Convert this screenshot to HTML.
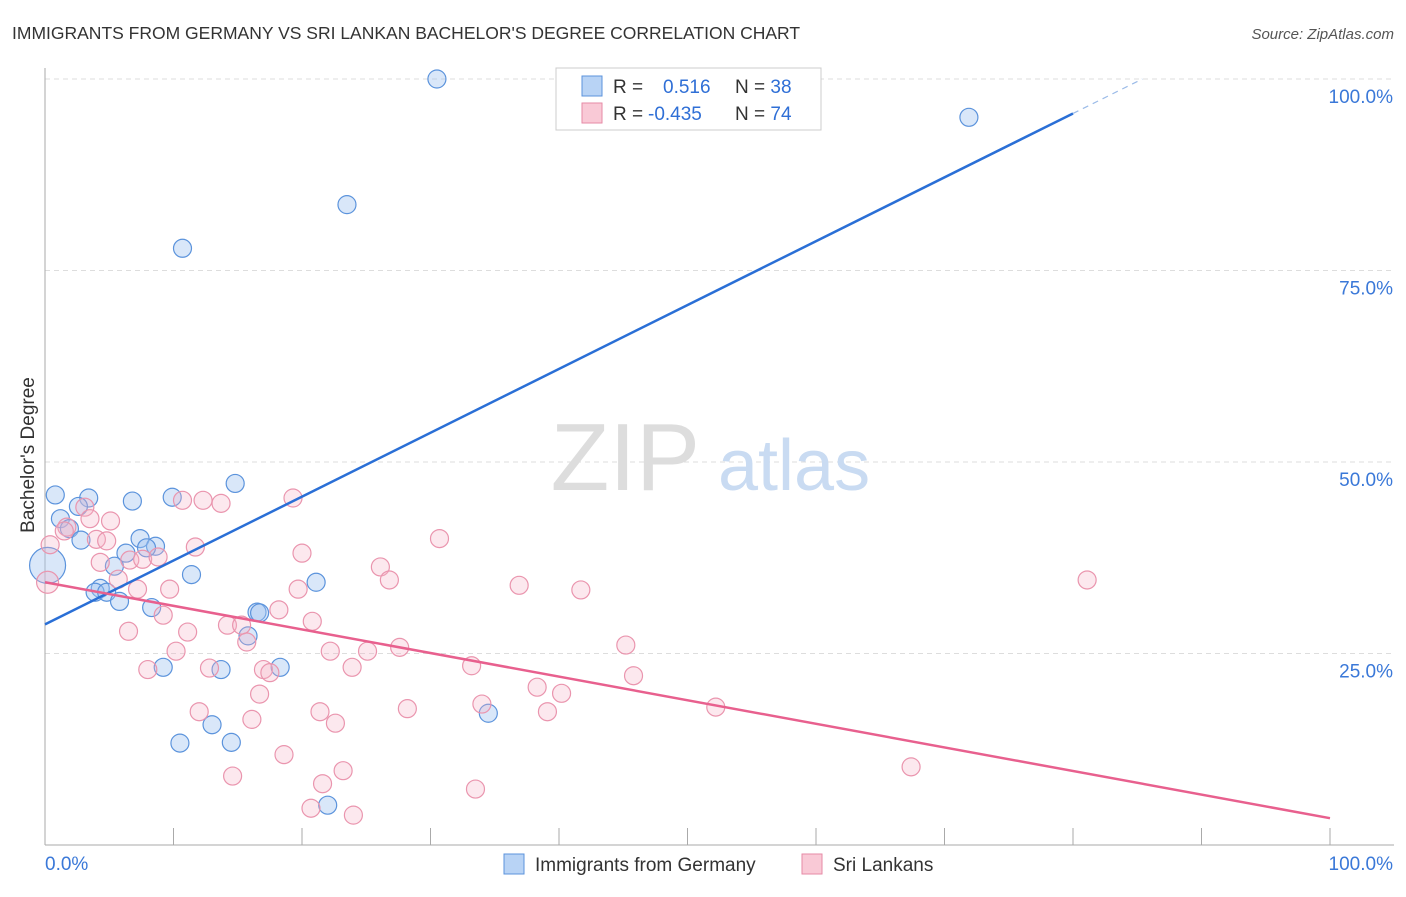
<!DOCTYPE html>
<html><head><meta charset="utf-8"><style>
body{margin:0;background:#fff;font-family:"Liberation Sans",sans-serif;}
svg text{font-family:"Liberation Sans",sans-serif;}
</style></head><body>
<svg id="chart" width="1406" height="892">
<text x="12" y="39" font-size="17.5" fill="#333">IMMIGRANTS FROM GERMANY VS SRI LANKAN BACHELOR'S DEGREE CORRELATION CHART</text>
<text x="1394" y="39" font-size="15" fill="#555" font-style="italic" text-anchor="end">Source: ZipAtlas.com</text>
<g id="grid"></g>
<text x="700" y="490" font-size="96" font-family="Liberation Serif" fill="#ddd" text-anchor="end">ZIP</text>
<text x="718" y="490" font-size="72" fill="#c9dbf2">atlas</text>
<text transform="translate(34,455) rotate(-90)" font-size="19" fill="#333" text-anchor="middle">Bachelor's Degree</text>
<g id="pts"></g>
<g id="lines"></g>
<g>
<rect x="556" y="68" width="265" height="62" fill="#fff" stroke="#ccc"/>
<rect x="582" y="76" width="20" height="20" fill="#b8d3f5" stroke="#5b93dc"/>
<rect x="582" y="103" width="20" height="20" fill="#f9c9d6" stroke="#e68aa6"/>
<text x="613" y="93" font-size="19" fill="#333">R = <tspan x="663" fill="#2f6fd6">0.516</tspan><tspan x="735" fill="#333">N = </tspan><tspan fill="#2f6fd6">38</tspan></text>
<text x="613" y="120" font-size="19" fill="#333">R = <tspan x="648" fill="#2f6fd6">-0.435</tspan><tspan x="735" fill="#333">N = </tspan><tspan fill="#2f6fd6">74</tspan></text>
</g>
<g>
<rect x="504" y="854" width="20" height="20" fill="#b8d3f5" stroke="#5b93dc"/>
<text x="535" y="871" font-size="19" fill="#333">Immigrants from Germany</text>
<rect x="802" y="854" width="20" height="20" fill="#f9c9d6" stroke="#e68aa6"/>
<text x="833" y="871" font-size="19" fill="#333">Sri Lankans</text>
</g>
</svg>
<script>
const yTicks=[25,50,75,100];
const yTickLabels=["25.0%","50.0%","75.0%","100.0%"];
const xTicks=[0,10,20,30,40,50,60,70,80,90,100];
const germanyX=[0.8,3.4,6.8,9.9,14.8,1.2,2.6,1.9,2.8,7.4,8.6,7.9,6.3,5.4,4.3,3.9,4.8,5.8,8.3,11.4,21.1,9.2,13.7,18.3,16.5,16.7,15.8,13.0,14.5,10.5,34.5,22.0,30.5,10.7,23.5,71.9,0.2,50.1];
const germanyY=[45.7,45.3,44.9,45.4,47.2,42.6,44.2,41.3,39.8,40.0,39.0,38.8,38.1,36.4,33.5,33.0,33.0,31.8,31.0,35.3,34.3,23.2,22.9,23.2,30.4,30.3,27.3,15.7,13.4,13.3,17.2,5.2,100,77.9,83.6,95.0,36.5,100];
const germanyR=[9,9,9,9,9,9,9,9,9,9,9,9,9,9,9,9,9,9,9,9,9,9,9,9,9,9,9,9,9,9,9,9,9,9,9,9,18,9];
const lankaX=[0.2,0.4,1.7,1.5,3.1,3.5,5.1,4.0,4.8,6.6,7.6,8.8,4.3,5.7,7.2,6.5,8.0,9.2,9.7,11.1,11.7,10.2,10.7,12.3,13.7,19.3,12.8,12.0,14.2,15.3,15.7,16.7,16.1,14.6,17.0,17.5,18.2,18.6,20.0,19.7,20.8,21.4,22.2,22.6,21.6,20.7,23.2,24.0,23.9,25.1,26.1,26.8,27.6,28.2,30.7,33.2,34.0,33.5,36.9,38.3,39.1,40.2,41.7,45.2,45.8,52.2,67.4,81.1];
const lankaY=[34.3,39.2,41.5,41.0,44.1,42.6,42.3,39.9,39.7,37.2,37.3,37.6,36.9,34.7,33.4,27.9,22.9,30.0,33.4,27.8,38.9,25.3,45.0,45.0,44.6,45.3,23.1,17.4,28.7,28.7,26.5,19.7,16.4,9.0,22.9,22.5,30.7,11.8,38.1,33.4,29.2,17.4,25.3,15.9,8.0,4.8,9.7,3.9,23.2,25.3,36.3,34.6,25.8,17.8,40.0,23.4,18.4,7.3,33.9,20.6,17.4,19.8,33.3,26.1,22.1,18.0,10.2,34.6];
const lankaR=[11,9,9,9,9,9,9,9,9,9,9,9,9,9,9,9,9,9,9,9,9,9,9,9,9,9,9,9,9,9,9,9,9,9,9,9,9,9,9,9,9,9,9,9,9,9,9,9,9,9,9,9,9,9,9,9,9,9,9,9,9,9,9,9,9,9,9,9];
const blueLine=[0,28.8,80,95.5];
const pinkLine=[0,34.3,100,3.5];
const X=v=>45+v*12.85, Y=v=>845-v*7.66;
const NS="http://www.w3.org/2000/svg";
function mk(t,a,p){const e=document.createElementNS(NS,t);for(const k in a)e.setAttribute(k,a[k]);p.appendChild(e);return e;}
const grid=document.getElementById('grid');
yTicks.forEach((t,i)=>{
 const l=mk('line',{x1:45,x2:1394,y1:Y(t),y2:Y(t),stroke:'#ddd','stroke-dasharray':'5,4'},grid);
 
 
 const tx=mk('text',{x:1393,y:Y(t)+24,'font-size':19,fill:'#3a78d8','text-anchor':'end'},grid);tx.textContent=yTickLabels[i];
 
 
});
mk('line',{x1:45,x2:45,y1:68,y2:845,stroke:'#aaa'},grid);
mk('line',{x1:45,x2:1394,y1:845,y2:845,stroke:'#aaa'},grid);
xTicks.forEach(t=>{const l=mk('line',{x1:X(t),x2:X(t),y1:828,y2:845,stroke:'#aaa'},grid);
 
 });
let a=mk('text',{x:45,y:870,'font-size':19,fill:'#3a78d8'},grid);a.textContent='0.0%';

let b=mk('text',{x:1393,y:870,'font-size':19,fill:'#3a78d8','text-anchor':'end'},grid);b.textContent='100.0%';

const pts=document.getElementById('pts');
germanyX.forEach((v,i)=>{const c=mk('circle',{cx:X(v),cy:Y(germanyY[i]),r:germanyR[i],fill:'rgba(160,196,240,0.4)',stroke:'#5b93dc','stroke-width':1.2},pts);
 
 });
lankaX.forEach((v,i)=>{const c=mk('circle',{cx:X(v),cy:Y(lankaY[i]),r:lankaR[i],fill:'rgba(246,180,200,0.3)',stroke:'#ea95ae','stroke-width':1.2},pts);
 
 });
const lines=document.getElementById('lines');
const slope=(blueLine[3]-blueLine[1])/(blueLine[2]-blueLine[0]);
let bl=mk('line',{x1:X(blueLine[0]),y1:Y(blueLine[1]),x2:X(blueLine[2]),y2:Y(blueLine[3]),stroke:'#2a6fd6','stroke-width':2.5},lines);


const xe=blueLine[2]+(100-blueLine[3])/slope;
let bd=mk('line',{x1:X(blueLine[2]),y1:Y(blueLine[3]),x2:X(xe),y2:Y(100),stroke:'#9bbbe8','stroke-width':1.2,'stroke-dasharray':'6,5'},lines);


let pl=mk('line',{x1:X(pinkLine[0]),y1:Y(pinkLine[1]),x2:X(pinkLine[2]),y2:Y(pinkLine[3]),stroke:'#e8608e','stroke-width':2.5},lines);


</script>
</body></html>
